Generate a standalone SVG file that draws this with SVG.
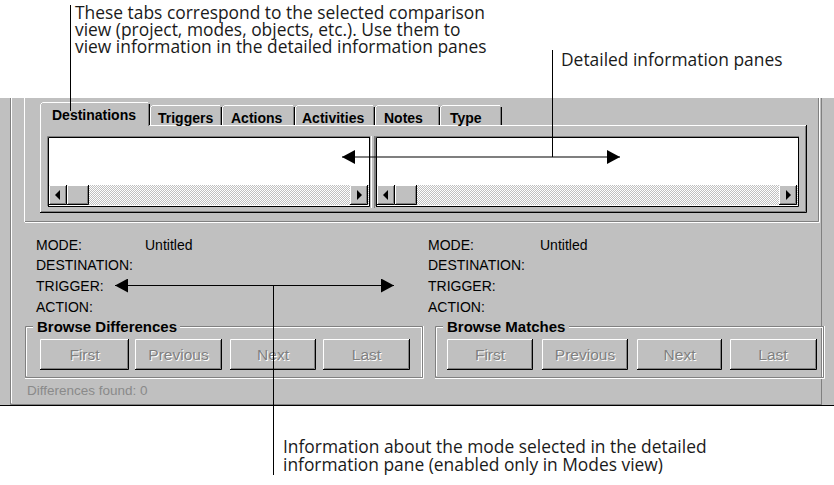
<svg xmlns="http://www.w3.org/2000/svg" width="834" height="485" viewBox="0 0 834 485">
  <defs>
    <!-- 50% dither used for scrollbar tracks -->
    <pattern id="dither" width="2" height="2" patternUnits="userSpaceOnUse">
      <rect width="2" height="2" fill="#c0c0c0"/>
      <rect width="1" height="1" fill="#ffffff"/>
      <rect x="1" y="1" width="1" height="1" fill="#ffffff"/>
    </pattern>
    <marker id="ah" viewBox="0 0 13 14" refX="13" refY="7" markerWidth="13" markerHeight="14" markerUnits="userSpaceOnUse" orient="auto-start-reverse">
      <path d="M0,0 L13,7 L0,14 Z" fill="#000"/>
    </marker>
    <!-- scrollbar parts, 18x20 / 22x20 -->
    <symbol id="sbtn" viewBox="0 0 18 20" width="18" height="20" overflow="visible">
      <rect width="18" height="20" fill="#c0c0c0"/>
      <path d="M0.5,19 V0.5 H17" fill="none" stroke="#ffffff"/>
      <path d="M0,19.5 H17.5 V0" fill="none" stroke="#000"/>
      <path d="M1,18.5 H16.5 V1" fill="none" stroke="#808080"/>
    </symbol>
    <symbol id="thumb" viewBox="0 0 22 20" width="22" height="20" overflow="visible">
      <rect width="22" height="20" fill="#c0c0c0"/>
      <path d="M0.5,19 V0.5 H21" fill="none" stroke="#ffffff"/>
      <path d="M0,19.5 H21.5 V0" fill="none" stroke="#000"/>
      <path d="M1,18.5 H20.5 V1" fill="none" stroke="#808080"/>
    </symbol>
    <style>
      .note { font-family: "Open Sans", "Noto Sans", sans-serif; font-size: 17.4px; fill: #1a1a1a; }
      .lbl  { font-family: "Liberation Sans", Arial, sans-serif; font-size: 14px; fill: #000; }
      .tab  { font-family: "Liberation Sans", Arial, sans-serif; font-size: 14px; font-weight: bold; fill: #000; }
      .grp  { font-family: "Liberation Sans", Arial, sans-serif; font-size: 15px; font-weight: bold; fill: #000; }
      .btn  { font-family: "Liberation Sans", Arial, sans-serif; font-size: 15.5px; fill: #808080; text-anchor: middle; }
      .btnsh{ font-family: "Liberation Sans", Arial, sans-serif; font-size: 15.5px; fill: #ffffff; text-anchor: middle; }
      .dis  { font-family: "Liberation Sans", Arial, sans-serif; font-size: 13.5px; fill: #8a8a8a; }
      .hl   { stroke: #ffffff; fill: none; }
      .sh   { stroke: #808080; fill: none; }
      .dk   { stroke: #000000; fill: none; }
      .lead { stroke: #000000; stroke-width: 1; fill: none; }
      .arr  { stroke: #000000; stroke-width: 1.2; fill: none; marker-start: url(#ah); marker-end: url(#ah); }
    </style>
  </defs>

  <rect width="834" height="485" fill="#ffffff"/>

  <!-- dialog body -->
  <g id="dialog">
    <rect x="0" y="98" width="834" height="308" fill="#c0c0c0"/>
    <path class="sh" d="M10.5,98 V404.5 H822"/>
    <path class="hl" d="M11.5,98 V403"/>
    <path class="sh" d="M821.5,98 V405"/>
    <path class="dk" d="M0,405.5 H834" stroke="#707070"/>
    <!-- upper panel holding the tab control -->
    <path class="hl" d="M24.5,98 V222"/>
    <path class="sh" d="M25,221.5 H818.5 V98"/>
    <path class="hl" d="M25,222.5 H819.5 V98"/>
  </g>

  <!-- tab control -->
  <g id="tabs">
    <!-- page frame -->
    <rect x="40" y="125" width="767" height="88" fill="#c0c0c0"/>
    <path class="hl" d="M40.5,212 V125.5 H41 M150,125.5 H806"/>
    <path class="dk" d="M40,212.5 H806.5 V125"/>
    <path class="sh" d="M41,211.5 H805.5 V126"/>

    <!-- unselected tabs -->
    <g id="tab-triggers">
      <path class="hl" d="M150.5,125 V107.5 L152.5,105.5 H220"/>
      <path class="dk" d="M221.5,107 V125"/>
      <path class="sh" d="M220.5,107 V125"/>
      <text class="tab" x="158" y="123">Triggers</text>
    </g>
    <g id="tab-actions">
      <path class="hl" d="M222.5,125 V107.5 L224.5,105.5 H293"/>
      <path class="dk" d="M294.5,107 V125"/>
      <path class="sh" d="M293.5,107 V125"/>
      <text class="tab" x="231" y="123">Actions</text>
    </g>
    <g id="tab-activities">
      <path class="hl" d="M295.5,125 V107.5 L297.5,105.5 H373"/>
      <path class="dk" d="M374.5,107 V125"/>
      <path class="sh" d="M373.5,107 V125"/>
      <text class="tab" x="302" y="123">Activities</text>
    </g>
    <g id="tab-notes">
      <path class="hl" d="M375.5,125 V107.5 L377.5,105.5 H438"/>
      <path class="dk" d="M439.5,107 V125"/>
      <path class="sh" d="M438.5,107 V125"/>
      <text class="tab" x="384" y="123">Notes</text>
    </g>
    <g id="tab-type">
      <path class="hl" d="M440.5,125 V107.5 L442.5,105.5 H500"/>
      <path class="dk" d="M501.5,107 V125"/>
      <path class="sh" d="M500.5,107 V125"/>
      <text class="tab" x="450" y="123">Type</text>
    </g>
    <!-- selected tab -->
    <g id="tab-destinations">
      <rect x="41" y="103" width="108" height="24" fill="#c0c0c0"/>
      <path class="hl" d="M40.5,126 V104.5 L42.5,102.5 H148"/>
      <path class="dk" d="M149.5,104 V125"/>
      <path class="sh" d="M148.5,104 V126"/>
      <text class="tab" x="52" y="120">Destinations</text>
    </g>
  </g>

  <!-- left detail pane -->
  <g id="pane-left">
    <rect x="48" y="137" width="322" height="69" fill="#ffffff"/>
    <path class="sh" d="M47.5,206 V136.5 H370"/>
    <path class="dk" d="M48.5,206 V137.5 H369"/>
    <path class="dk" d="M48,206.5 H369.5 V137"/>
    <rect x="49" y="185" width="320" height="20" fill="url(#dither)"/>
    <use href="#sbtn" x="49" y="185"/>
    <path d="M60,190 L55,195 L60,200 Z" fill="#000"/>
    <use href="#thumb" x="67" y="185"/>
    <use href="#sbtn" x="350" y="185"/>
    <path d="M357,190 L362,195 L357,200 Z" fill="#000"/>
  </g>

  <!-- splitter -->
  <g id="splitter">
    <path class="hl" d="M371.5,136 V208"/>
    <path class="sh" d="M374.5,136 V208"/>
  </g>

  <!-- right detail pane -->
  <g id="pane-right">
    <rect x="375" y="137" width="424" height="69" fill="#ffffff"/>
    <path class="sh" d="M375.5,206 V136.5 H799"/>
    <path class="dk" d="M376.5,206 V137.5 H798"/>
    <path class="dk" d="M376,206.5 H798.5 V137"/>
    <rect x="377" y="185" width="421" height="20" fill="url(#dither)"/>
    <use href="#sbtn" x="377" y="185"/>
    <path d="M388,190 L383,195 L388,200 Z" fill="#000"/>
    <use href="#thumb" x="395" y="185"/>
    <use href="#sbtn" x="779" y="185"/>
    <path d="M786,190 L791,195 L786,200 Z" fill="#000"/>
  </g>

  <!-- mode information, left -->
  <g id="info-left">
    <text class="lbl" x="36" y="250">MODE:</text>
    <text class="lbl" x="145" y="250">Untitled</text>
    <text class="lbl" x="36" y="270">DESTINATION:</text>
    <text class="lbl" x="36" y="291">TRIGGER:</text>
    <text class="lbl" x="36" y="312">ACTION:</text>
  </g>

  <!-- mode information, right -->
  <g id="info-right">
    <text class="lbl" x="428" y="250">MODE:</text>
    <text class="lbl" x="540" y="250">Untitled</text>
    <text class="lbl" x="428" y="270">DESTINATION:</text>
    <text class="lbl" x="428" y="291">TRIGGER:</text>
    <text class="lbl" x="428" y="312">ACTION:</text>
  </g>

  <!-- Browse Differences group -->
  <g id="browse-differences">
    <path class="sh" d="M33,326.5 H25.5 V377.5 H422.5 V326.5 H180"/>
    <path class="hl" d="M33,327.5 H26.5 V376 M25,378.5 H423.5 V326 M421.5,327 V377 M180,327.5 H421"/>
    <text class="grp" x="37" y="332">Browse Differences</text>
    <g id="btn-diff-first">
      <path class="hl" d="M40.5,369 V339.5 H128"/>
      <path class="dk" d="M40,369.5 H128.5 V339"/>
      <path class="sh" d="M41,368.5 H127.5 V340"/>
      <text class="btnsh" x="85.5" y="361">First</text>
      <text class="btn" x="84.5" y="360">First</text>
    </g>
    <g id="btn-diff-previous">
      <path class="hl" d="M135.5,369 V339.5 H221"/>
      <path class="dk" d="M135,369.5 H221.5 V339"/>
      <path class="sh" d="M136,368.5 H220.5 V340"/>
      <text class="btnsh" x="179.5" y="361">Previous</text>
      <text class="btn" x="178.5" y="360">Previous</text>
    </g>
    <g id="btn-diff-next">
      <path class="hl" d="M230.5,369 V339.5 H315"/>
      <path class="dk" d="M230,369.5 H315.5 V339"/>
      <path class="sh" d="M231,368.5 H314.5 V340"/>
      <text class="btnsh" x="274" y="361">Next</text>
      <text class="btn" x="273" y="360">Next</text>
    </g>
    <g id="btn-diff-last">
      <path class="hl" d="M323.5,369 V339.5 H409"/>
      <path class="dk" d="M323,369.5 H409.5 V339"/>
      <path class="sh" d="M324,368.5 H408.5 V340"/>
      <text class="btnsh" x="367.5" y="361">Last</text>
      <text class="btn" x="366.5" y="360">Last</text>
    </g>
  </g>

  <!-- Browse Matches group -->
  <g id="browse-matches">
    <path class="sh" d="M443,326.5 H435.5 V377.5 H823.5 V326.5 H569"/>
    <path class="hl" d="M443,327.5 H436.5 V376 M435,378.5 H824.5 V326 M822.5,327 V377 M569,327.5 H822"/>
    <text class="grp" x="447" y="332">Browse Matches</text>
    <g id="btn-match-first">
      <path class="hl" d="M447.5,369 V339.5 H532"/>
      <path class="dk" d="M447,369.5 H532.5 V339"/>
      <path class="sh" d="M448,368.5 H531.5 V340"/>
      <text class="btnsh" x="491" y="361">First</text>
      <text class="btn" x="490" y="360">First</text>
    </g>
    <g id="btn-match-previous">
      <path class="hl" d="M542.5,369 V339.5 H627"/>
      <path class="dk" d="M542,369.5 H627.5 V339"/>
      <path class="sh" d="M543,368.5 H626.5 V340"/>
      <text class="btnsh" x="586" y="361">Previous</text>
      <text class="btn" x="585" y="360">Previous</text>
    </g>
    <g id="btn-match-next">
      <path class="hl" d="M637.5,369 V339.5 H721"/>
      <path class="dk" d="M637,369.5 H721.5 V339"/>
      <path class="sh" d="M638,368.5 H720.5 V340"/>
      <text class="btnsh" x="680.5" y="361">Next</text>
      <text class="btn" x="679.5" y="360">Next</text>
    </g>
    <g id="btn-match-last">
      <path class="hl" d="M730.5,369 V339.5 H816"/>
      <path class="dk" d="M730,369.5 H816.5 V339"/>
      <path class="sh" d="M731,368.5 H815.5 V340"/>
      <text class="btnsh" x="774" y="361">Last</text>
      <text class="btn" x="773" y="360">Last</text>
    </g>
  </g>

  <g id="status">
    <text class="dis" x="27" y="395">Differences found:  0</text>
  </g>

  <!-- callout texts -->
  <g id="note-tabs">
    <text class="note" x="75" y="19">These tabs correspond to the selected comparison</text>
    <text class="note" x="75" y="36">view (project, modes, objects, etc.). Use them to</text>
    <text class="note" x="75" y="53">view information in the detailed information panes</text>
  </g>
  <g id="note-panes">
    <text class="note" x="561" y="66">Detailed information panes</text>
  </g>
  <g id="note-mode">
    <text class="note" x="283" y="453">Information about the mode selected in the detailed</text>
    <text class="note" x="283" y="471">information pane (enabled only in Modes view)</text>
  </g>

  <!-- connectors -->
  <g id="connectors">
    <path class="lead" d="M70.5,5 V111"/>
    <path class="lead" d="M552.5,50 V157"/>
    <path class="arr" d="M342,157 H620"/>
    <path class="lead" d="M273.5,286 V475"/>
    <path class="arr" d="M115,285.5 H394"/>
  </g>
</svg>
